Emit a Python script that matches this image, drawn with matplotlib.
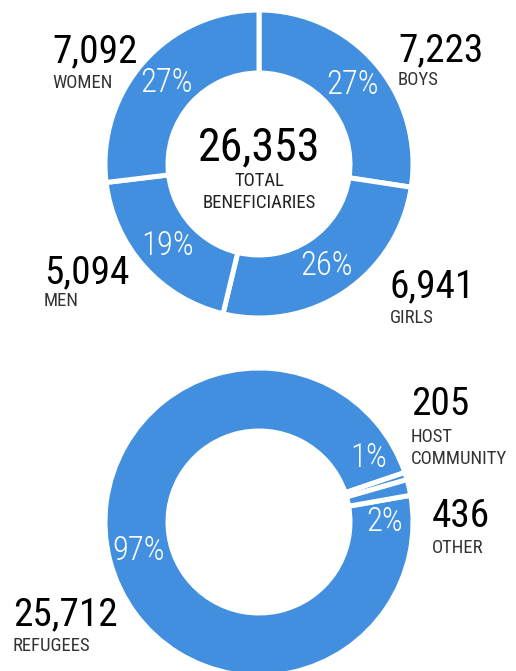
import matplotlib
matplotlib.use('Agg')
import matplotlib.pyplot as plt

# 데이터
top_labels = ['BOYS', 'GIRLS', 'MEN', 'WOMEN']
top_values = [7223, 6941, 5094, 7092]
top_pct = ['27%', '26%', '19%', '27%']

bottom_labels = ['REFUGEES', 'HOST\nCOMMUNITY', 'OTHER']
bottom_values = [25712, 205, 436]
bottom_pct = ['97%', '1%', '2%']

total_value = 26353
total_label = 'TOTAL\nBENEFICIARIES'

BLUE = '#418fde'
FONT = ['Roboto Condensed', 'Liberation Sans Narrow', 'Roboto', 'DejaVu Sans']
plt.rcParams['font.family'] = FONT

W, H = 516, 671
fig = plt.figure(figsize=(W / 100, H / 100), dpi=100)
ax = fig.add_axes([0, 0, 1, 1])


def fmt(v):
    return f'{v:,}'


def donut(values, center, startangle):
    wedges, _ = ax.pie(values, center=center, radius=154, startangle=startangle,
                       counterclock=False, colors=[BLUE] * len(values),
                       wedgeprops=dict(width=63, edgecolor='white', linewidth=3.6))
    return wedges


# 위쪽 도넛
donut(top_values, (259, 507), 90)
# 아래쪽 도넛
donut(bottom_values, (259, 149), 10)

ax.set_xlim(0, W)
ax.set_ylim(0, H)
ax.set_aspect('equal')
ax.axis('off')


def y(img_y):
    return H - img_y


def big(x, iy, s, ha='left'):
    ax.text(x, y(iy), s, fontsize=28.3, color='black', ha=ha, va='baseline')


def small(x, iy, s, ha='left'):
    ax.text(x, y(iy), s, fontsize=13.5, color='#333333', ha=ha, va='top',
            linespacing=1.25)


def pct(x, iy, s):
    ax.text(x, y(iy), s, fontsize=23.5, color='white', ha='center', va='center',
            fontweight='light')


# 숫자 + 라벨 (위)
big(398, 61, fmt(top_values[0])); small(398, 71, top_labels[0])
big(390, 297, fmt(top_values[1])); small(390, 309, top_labels[1])
big(44, 283, fmt(top_values[2])); small(44, 292, top_labels[2])
big(52, 62, fmt(top_values[3])); small(52, 74, top_labels[3])

pct(352, 85, top_pct[0])
pct(327, 266, top_pct[1])
pct(168, 246, top_pct[2])
pct(167, 83, top_pct[3])

ax.text(259, y(160), fmt(total_value), fontsize=33, color='black',
        ha='center', va='baseline')
ax.text(259, y(172), total_label, fontsize=13.5, color='#222222', ha='center',
        va='top', linespacing=1.25)

# 숫자 + 라벨 (아래)
big(13, 625, fmt(bottom_values[0])); small(13, 637, bottom_labels[0])
big(411, 415, fmt(bottom_values[1])); small(411, 428, bottom_labels[1])
big(432, 527, fmt(bottom_values[2])); small(432, 539, bottom_labels[2])

pct(139, 551, bottom_pct[0])
pct(369, 458, bottom_pct[1])
pct(385, 522, bottom_pct[2])

fig.savefig('out.png', dpi=100)
